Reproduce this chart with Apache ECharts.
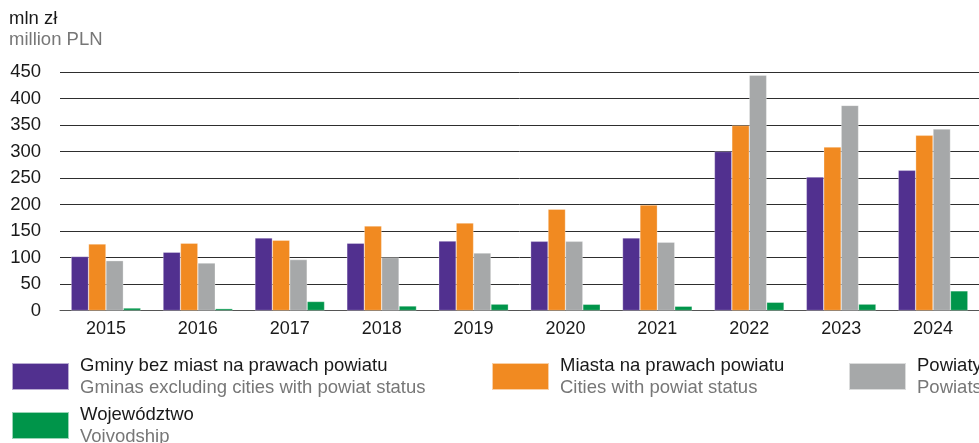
<!DOCTYPE html>
<html><head><meta charset="utf-8">
<script src="https://cdn.jsdelivr.net/npm/echarts@6/dist/echarts.min.js"></script>
<style>html,body{margin:0;padding:0;background:#fff}#c{width:979px;height:443px}</style>
</head><body><div id="c"></div>
<script>
const years = ['2015','2016','2017','2018','2019','2020','2021','2022','2023','2024'];
const gminy = [102, 110, 137, 127, 131, 130.5, 137, 300, 252, 264.5];
const miasta = [125.5, 127, 132.5, 159.5, 165, 191, 199, 349, 308.5, 330.5];
const powiaty = [94, 89.6, 96, 100, 108.5, 130.5, 129, 444, 387, 342.5];
const wojewodztwo = [4.7, 3.5, 17, 8.5, 12, 11.7, 8, 15.5, 12, 37];
const namesPL = ['Gminy bez miast na prawach powiatu','Miasta na prawach powiatu','Powiaty','Województwo'];
const namesEN = ['Gminas excluding cities with powiat status','Cities with powiat status','Powiats','Voivodship'];
const colors = ['#51308f','#f18a21','#a6a8a9','#00954a'];
const yTicks = [0, 50, 100, 150, 200, 250, 300, 350, 400, 450];

const FONT = '"Liberation Sans", Arial, sans-serif';
const en = {}; namesPL.forEach((n,i)=>en[n]=namesEN[i]);
const legendPos = [[11,356],[491,356],[848,356],[11,405]];
const chart = echarts.init(document.getElementById('c'), null, {renderer:'canvas'});
const seriesData = [gminy, miasta, powiaty, wojewodztwo];
chart.setOption({
  animation:false,
  textStyle:{fontFamily:FONT},
  title:{text:'mln zł', subtext:'million PLN', left:9, top:9, itemGap:2, padding:0,
    textStyle:{fontFamily:FONT, fontSize:18.5, fontWeight:'normal', color:'#1a1a1a', lineHeight:19},
    subtextStyle:{fontFamily:FONT, fontSize:18.5, color:'#777', lineHeight:19}},
  legend: namesPL.map((n,i)=>({
    data:[n], left:legendPos[i][0], top:legendPos[i][1], icon:'rect',
    itemWidth:57, itemHeight:27, selectedMode:false, padding:0,
    formatter: name => '{a|'+name+'}\n{b|'+en[name]+'}',
    textStyle:{fontFamily:FONT, padding:[0,0,0,6], rich:{
      a:{fontFamily:FONT, fontSize:18.5, color:'#1a1a1a', lineHeight:22},
      b:{fontFamily:FONT, fontSize:18.5, color:'#777', lineHeight:22}}}
  })),
  grid:{left:60, right:-3, top:72, bottom:132.5, containLabel:false},
  xAxis:{type:'category', data:years,
    axisLine:{lineStyle:{color:'#555', width:1}}, axisTick:{show:false},
    axisLabel:{fontFamily:FONT, fontSize:18, color:'#1a1a1a', margin:10}},
  yAxis:{type:'value', min:0, max:450, interval:50,
    axisLine:{show:false}, axisTick:{show:false},
    splitLine:{lineStyle:{color:'#2e2e2e', width:1}},
    axisLabel:{fontFamily:FONT, fontSize:18.5, color:'#1a1a1a', margin:19,
      formatter: v => yTicks.includes(v) ? String(v) : ''}},
  series: namesPL.map((n,i)=>({
    name:n, type:'bar', data:seriesData[i], barWidth:17.4, barGap:'0%',
    itemStyle:{color:colors[i], borderColor:'rgba(255,255,255,0.6)', borderWidth:0.5}
  }))
});
</script></body></html>
